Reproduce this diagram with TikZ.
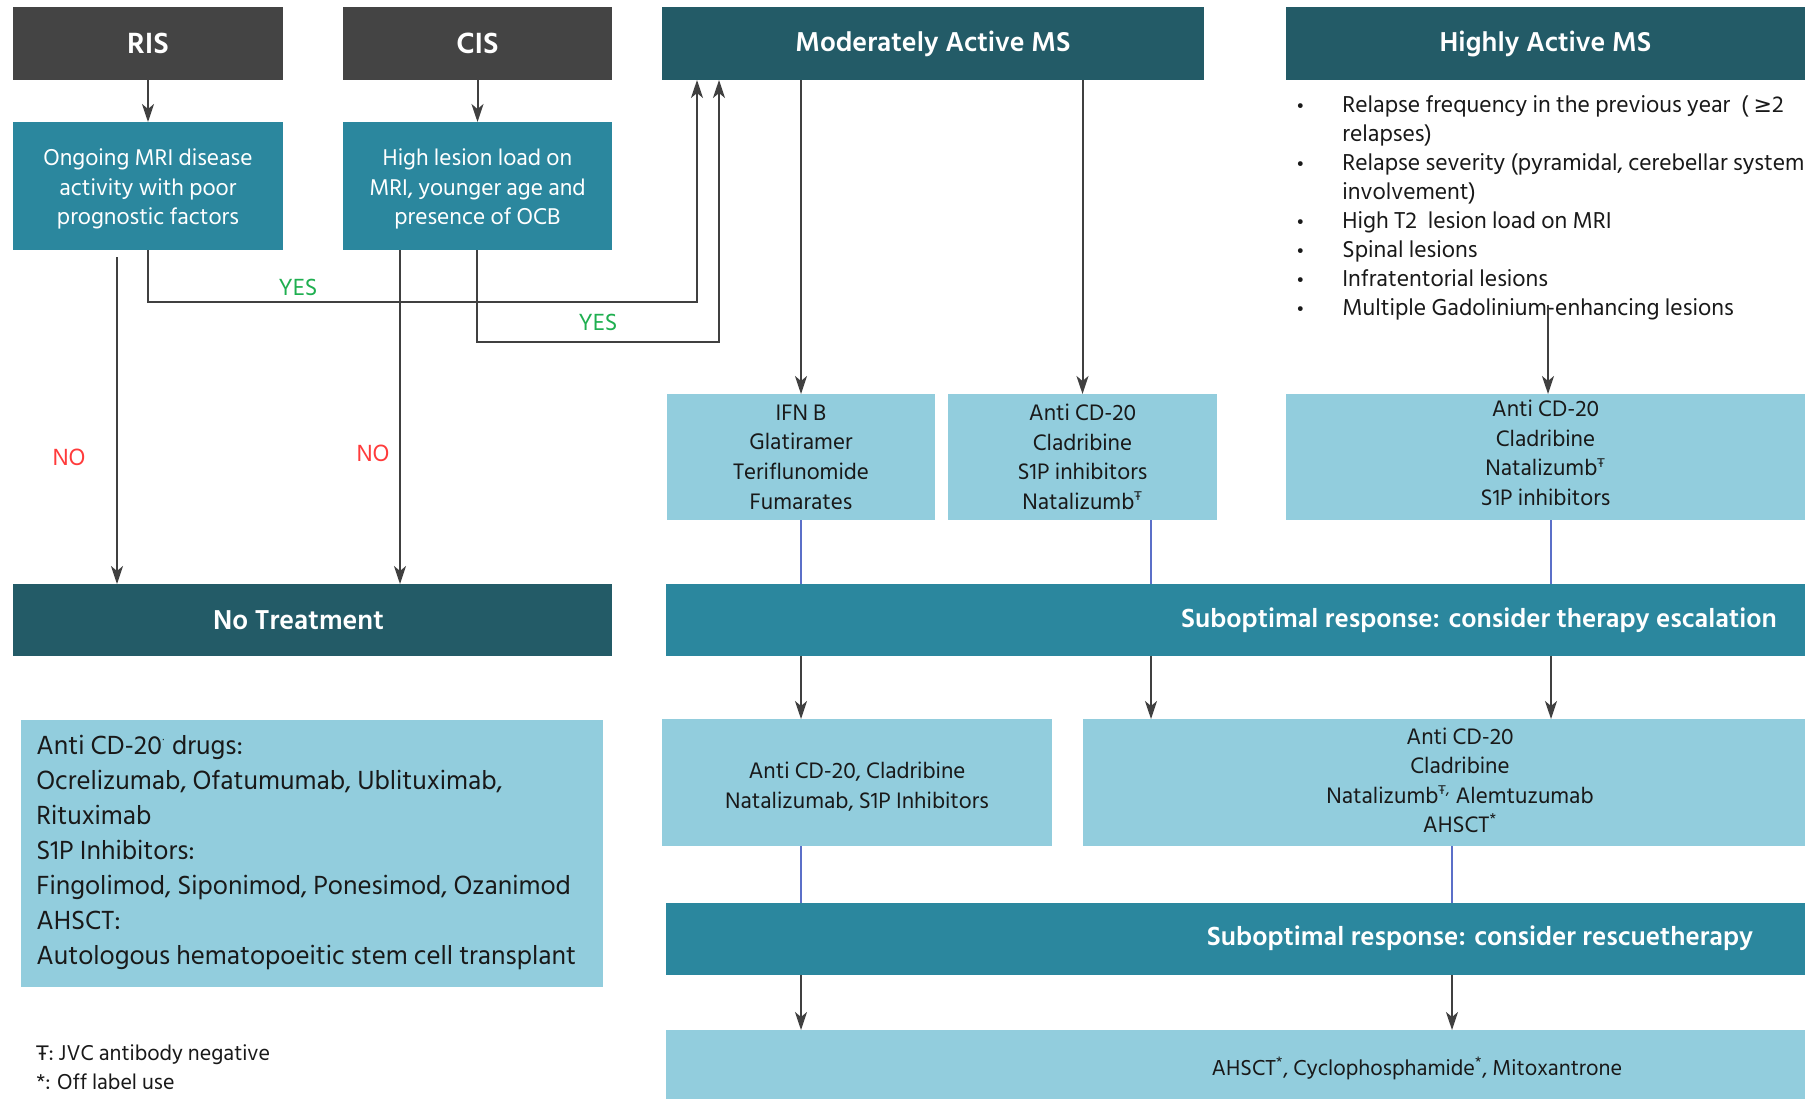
\documentclass[tikz,border=0pt]{standalone}
\usepackage{fontspec}
\setmainfont{Hind Siliguri}
\newfontfamily\symf{DejaVu Sans}
\usetikzlibrary{arrows.meta,calc}
\definecolor{cgray}{HTML}{444444}
\definecolor{cdark}{HTML}{235B67}
\definecolor{cteal}{HTML}{2B879E}
\definecolor{clight}{HTML}{92CDDD}
\definecolor{carrow}{HTML}{404040}
\definecolor{cblue}{HTML}{5B6FC8}
\definecolor{cyes}{HTML}{1FAF50}
\definecolor{cno}{HTML}{FF3B3B}
\newcommand\fsz[2]{\fontsize{#1}{#2}\selectfont}
\newcommand\Tsup[1][]{\textsuperscript{{\symf\fontsize{6}{6}\selectfont Ŧ}#1}}
\newcommand\bxn[7]{\node[#6, anchor=north west, minimum width={(#4-#2)*0.5pt}, minimum height={(#5-#3)*0.5pt}] (#1) at (#2,#3) {#7};}
\begin{document}
\begin{tikzpicture}[x=0.5pt,y=-0.5pt,
  box/.style={inner sep=0pt, outer sep=0pt, align=center},
  title/.style={box, fill=cgray, text=white, font=\fsz{15}{18}\bfseries},
  head/.style={box, fill=cdark, text=white, font=\fsz{14}{18}\bfseries},
  mid/.style={box, fill=cteal, text=white, font=\fsz{11.7}{14.7}},
  drug/.style={box, fill=clight, text=black!90, font=\fsz{11.5}{14.8}},
  bar/.style={box, fill=cteal},
  bartext/.style={text=white, font=\fsz{13.5}{16}\bfseries, inner sep=0pt},
  plain/.style={text=black!90, inner sep=0pt, align=left},
  arr/.style={draw=carrow, line width=1pt, -{Stealth[length=9pt,width=6pt,inset=2.5pt]}},
  bline/.style={draw=cblue, line width=0.6pt},
  yes/.style={text=cyes, font=\fsz{12}{14}},
  no/.style={text=cno, font=\fsz{12}{14}}]
\fill[white] (0,0) rectangle (1811,1099);
\useasboundingbox (0,0) rectangle (1811,1099);

\bxn{ris}{13}{7}{283}{80}{title}{RIS}
\bxn{cis}{343}{7}{612}{80}{title}{CIS}
\bxn{mod}{662}{7}{1204}{80}{head}{Moderately Active MS}
\bxn{hig}{1286}{7}{1805}{80}{head}{Highly Active MS}
\bxn{ong}{13}{122}{283}{256}{mid}{Ongoing MRI disease\\activity with poor\\prognostic factors}
\fill[white] (0,250) rectangle (300,257);
\bxn{hll}{343}{122}{612}{256}{mid}{High lesion load on\\MRI, younger age and\\presence of OCB}
\fill[white] (330,250) rectangle (640,257);
\bxn{notr}{13}{584}{612}{656}{head}{No Treatment\hspace{14pt}}
\bxn{ifn}{667}{394}{935}{520}{drug}{IFN B\\Glatiramer\\Teriflunomide\\Fumarates}
\bxn{acd}{948}{394}{1217}{520}{drug}{Anti CD-20\\Cladribine\\S1P inhibitors\\Natalizumb\Tsup}
\bxn{hac}{1286}{394}{1805}{512}{drug}{Anti CD-20\\Cladribine\\Natalizumb\Tsup\\S1P inhibitors}
\fill[clight] (1286,512) rectangle (1805,520);
\bxn{esc}{666}{584}{1805}{656}{bar}{}
\node[bartext] (esct) at (1479,620) {Suboptimal response: consider therapy escalation};
\bxn{esa}{662}{727}{1052}{846}{drug}{Anti CD-20, Cladribine\\Natalizumab, S1P Inhibitors}
\fill[clight] (662,719) rectangle (1052,728);
\bxn{esb}{1083}{719}{1805}{846}{drug}{\hspace{16pt}\begin{tabular}{@{}c@{}}Anti CD-20\\Cladribine\\Natalizumb\Tsup[,] Alemtuzumab\\AHSCT\textsuperscript{*}\end{tabular}}
\bxn{res}{666}{903}{1805}{975}{bar}{}
\node[bartext] (rest) at (1480,938) {Suboptimal response: consider rescuetherapy};
\bxn{fin}{666}{1030}{1805}{1099}{drug}{}
\node[plain, font=\fsz{11.1}{14}] (fint) at (1417,1068) {AHSCT\textsuperscript{*}, Cyclophosphamide\textsuperscript{*}, Mitoxantrone};

\bxn{leg}{21}{720}{603}{987}{drug}{}
\node[plain, anchor=west, font=\fsz{13.45}{17.5}] (legt) at (36,852) {Anti CD-20\textsuperscript{\symf\fontsize{5}{5}\selectfont ·} drugs:\\Ocrelizumab, Ofatumumab, Ublituximab,\\Rituximab\\S1P Inhibitors:\\Fingolimod, Siponimod, Ponesimod, Ozanimod\\AHSCT:\\Autologous hematopoeitic stem cell transplant};
\node[plain, anchor=west, font=\fsz{11}{14.5}] (foot) at (36,1067) {{\symf\fontsize{10}{10}\selectfont Ŧ}: JVC antibody negative\\*: Off label use};

\node[plain, anchor=north west, font=\fsz{11.8}{14.5}] (lst) at (1296,92) {%
\begin{tabular}{@{}p{23pt}@{}l@{}}
{\fontsize{9}{9}\selectfont\textbullet} & Relapse frequency in the previous year \ ( {\symf\fontsize{11}{11}\selectfont ≥}2\\
 & relapses)\\
{\fontsize{9}{9}\selectfont\textbullet} & Relapse severity (pyramidal, cerebellar system\\
 & involvement)\\
{\fontsize{9}{9}\selectfont\textbullet} & High T2 \ lesion load on MRI\\
{\fontsize{9}{9}\selectfont\textbullet} & Spinal lesions\\
{\fontsize{9}{9}\selectfont\textbullet} & Infratentorial lesions\\
{\fontsize{9}{9}\selectfont\textbullet} & Multiple Gadolinium-enhancing lesions
\end{tabular}};

% connectors
\draw[arr] (ris) -- (ong);
\draw[arr] (cis) -- (hll);
\coordinate (o1) at (148,250);
\coordinate (o2) at (477,250);
\coordinate (y1) at (697,302);
\coordinate (y2) at (719,342);
\draw[arr] (o1) |- (y1) -- (y1 |- mod.south);
\draw[arr] (o2) |- (y2) -- (y2 |- mod.south);
\node[yes] (yes1) at (298,287) {YES};
\node[yes] (yes2) at (598,322) {YES};
\coordinate (n1) at (117,257);
\coordinate (n2) at (400,250);
\draw[arr] (n1) -- (n1 |- notr.north);
\draw[arr] (n2) -- (n2 |- notr.north);
\node[no] (no1) at (69,457) {NO};
\node[no] (no2) at (373,453) {NO};
\draw[arr] (ifn.north |- mod.south) -- (ifn.north);
\draw[arr] (acd.north |- mod.south) -- (acd.north);
\coordinate (hl) at (1548,305);
\draw[arr] (hl) -- (hl |- hac.north);
\coordinate (b2) at (1151,520);
\coordinate (b3) at (1551,520);
\draw[bline] (ifn.south) -- (ifn.south |- esc.north);
\draw[bline] (b2) -- (b2 |- esc.north);
\draw[bline] (b3) -- (b3 |- esc.north);
\draw[arr] (ifn.south |- esc.south) -- (ifn.south |- esb.north);
\draw[arr] (b2 |- esc.south) -- (b2 |- esb.north);
\draw[arr] (b3 |- esc.south) -- (b3 |- esb.north);
\coordinate (c1) at (801,846);
\coordinate (c2) at (1452,846);
\draw[bline] (c1) -- (c1 |- res.north);
\draw[bline] (c2) -- (c2 |- res.north);
\draw[arr] (c1 |- res.south) -- (c1 |- fin.north);
\draw[arr] (c2 |- res.south) -- (c2 |- fin.north);
\end{tikzpicture}
\end{document}
